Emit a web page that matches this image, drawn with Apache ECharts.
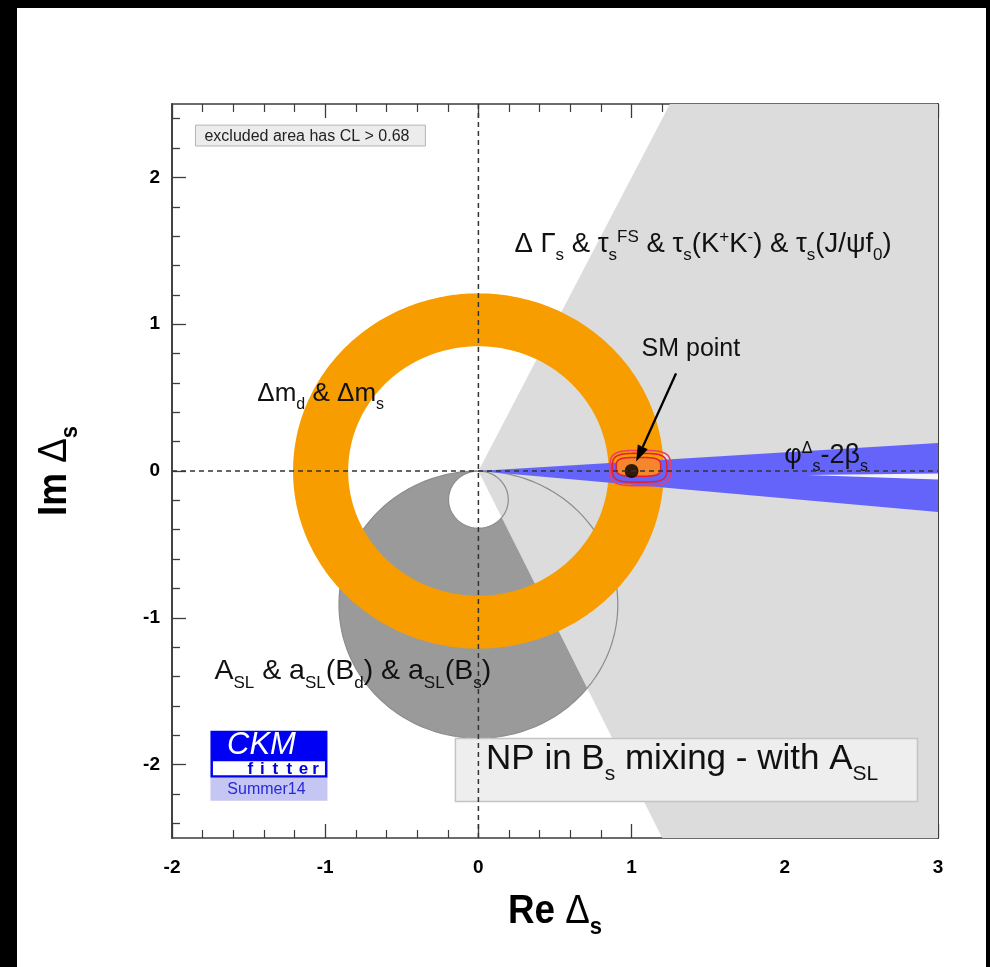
<!DOCTYPE html>
<html><head><meta charset="utf-8"><title>NP in Bs mixing</title>
<script src="https://cdn.jsdelivr.net/npm/echarts@6.0.0/dist/echarts.min.js"></script>
<style>
html,body{margin:0;padding:0;width:990px;height:967px;background:#000;overflow:hidden;}
#chart{position:absolute;left:17px;top:8px;width:969px;height:959px;background:#fff;}
</style></head>
<body><div id="chart"></div>
<script>
// ---------------- data ----------------
const xRange = [-2, 3];
const yRange = [-2.5, 2.5];
const xTickLabels = [-2, -1, 0, 1, 2, 3];
const yTickLabels = [-2, -1, 0, 1, 2];
const yMinorTicks = [-2.4,-2.2,-1.8,-1.6,-1.4,-1.2,-0.8,-0.6,-0.4,-0.2,0.2,0.4,0.6,0.8,1.2,1.4,1.6,1.8,2.2,2.4];

const dmRadii = [0.85, 1.21];                 // Δm_d & Δm_s ring (inner, outer radius, centred at origin)
const aslOuterCircle = [0, -0.91, 0.91];      // A_SL region: cx, cy, r
const aslInnerCircle = [0, -0.195, 0.195];    // A_SL excluded hole: cx, cy, r
const dGammaRegion = [[0,0],[1.25,2.5],[3,2.5],[3,-2.5],[1.2,-2.5]];
const phiRegion = [[0,0],[3,0.19],[3,-0.28]];
const phiGapRegion = [[2.15,-0.027],[3,-0.017],[3,-0.058]];
const fitContours = [[1.057,0.02,0.198,0.12],[1.052,0.022,0.178,0.098],[1.045,0.028,0.145,0.064]]; // cx, cy, a, b
const smPoint = [1, 0];
const arrowFrom = [1.29, 0.665];
const arrowTo = [1.03, 0.065];
const zeroLineH = [[-2,0],[3,0]];
const zeroLineV = [[0,-2.5],[0,2.5]];

// ---------------- layout / styles ----------------
const FF = "'Liberation Sans', Arial, Helvetica, sans-serif";
const frameColor = '#3c3c3c';
const layout = {
  exclBox: [[-1.847, 2.356], [-0.346, 2.214]],
  dGammaLabel: [0.235, 1.545],
  smLabel: [1.387, 0.832],
  phiLabel: [1.997, 0.106],
  dmLabel: [-1.443, 0.528],
  aslLabel: [-1.723, -1.364],
  npBox: [[-0.15, -1.823], [2.866, -2.252]],
  npText: [0.05, -1.966],
  logo: [-1.749, -1.770],
  xTitle: [0.5, -2.5],
  yTitle: [-2, 0]
};

function rich(F, col) {
  col = col || '#111';
  const f = Math.round(F * 0.6);
  return {
    n: {fontSize: F, fontFamily: FF, fill: col},
    s: {fontSize: f, fontFamily: FF, fill: col, padding: [Math.round(F * 0.84), 0, 0, 0]},
    p: {fontSize: f, fontFamily: FF, fill: col, padding: [0, 0, Math.round(F * 0.5), 0]}
  };
}

function circlePts(api, cx, cy, r, n, rev) {
  const pts = [];
  for (let i = 0; i <= n; i++) {
    const t = (rev ? -1 : 1) * 2 * Math.PI * i / n;
    pts.push(api.coord([cx + r * Math.cos(t), cy + r * Math.sin(t)]));
  }
  return pts;
}
function superPts(api, c) {
  const pts = [];
  const n = 160;
  for (let i = 0; i < n; i++) {
    const t = 2 * Math.PI * i / n;
    const co = Math.cos(t), si = Math.sin(t);
    pts.push(api.coord([c[0] + c[2] * Math.sign(co) * Math.pow(Math.abs(co), 0.55),
                        c[1] + c[3] * Math.sign(si) * Math.pow(Math.abs(si), 0.55)]));
  }
  return pts;
}
function shape(name, render) {
  return {type: 'custom', name: name, data: [[0, 0]], renderItem: render, silent: true, animation: false};
}

const series = [
  shape('asl', (p, api) => ({type: 'polygon', shape: {points: circlePts(api, aslOuterCircle[0], aslOuterCircle[1], aslOuterCircle[2], 240)}, style: {fill: '#9a9a9a'}})),
  shape('aslHole', (p, api) => ({type: 'polygon', shape: {points: circlePts(api, aslInnerCircle[0], aslInnerCircle[1], aslInnerCircle[2], 120)}, style: {fill: '#ffffff'}})),
  shape('dGamma', (p, api) => ({type: 'polygon', shape: {points: dGammaRegion.map(q => api.coord(q))}, style: {fill: '#dcdcdc'}})),
  shape('aslOutlines', (p, api) => ({type: 'group', children: [
    {type: 'polyline', shape: {points: circlePts(api, aslOuterCircle[0], aslOuterCircle[1], aslOuterCircle[2], 240)}, style: {stroke: '#8c8c8c', lineWidth: 1.2, fill: null}},
    {type: 'polyline', shape: {points: circlePts(api, aslInnerCircle[0], aslInnerCircle[1], aslInnerCircle[2], 120)}, style: {stroke: '#8c8c8c', lineWidth: 1.2, fill: null}}
  ]})),
  shape('dm', (p, api) => ({type: 'polygon', shape: {points: circlePts(api, 0, 0, dmRadii[1], 360).concat(circlePts(api, 0, 0, dmRadii[0], 360, true))}, style: {fill: '#f89d00'}})),
  shape('phi', (p, api) => ({type: 'polygon', shape: {points: phiRegion.map(q => api.coord(q))}, style: {fill: '#6464fa'}})),
  shape('phiGap', (p, api) => ({type: 'polygon', shape: {points: phiGapRegion.map(q => api.coord(q))}, style: {fill: '#f4f4ff'}})),
  shape('fit', (p, api) => ({type: 'group', children: fitContours.map((c, i) => ({
    type: 'polygon', shape: {points: superPts(api, c)},
    style: {fill: i === 2 ? '#f6862c' : null, stroke: i === 0 ? '#e8406a' : '#e42030', lineWidth: 1.6}
  }))})),
  {type: 'line', data: zeroLineH, symbol: 'none', silent: true, animation: false, lineStyle: {color: '#333', width: 1.5, type: [5, 4]}},
  {type: 'line', data: zeroLineV, symbol: 'none', silent: true, animation: false, lineStyle: {color: '#333', width: 1.5, type: [5, 4]}},
  shape('arrow', (p, api) => {
    const a = api.coord(arrowFrom), b = api.coord(arrowTo);
    const dx = b[0] - a[0], dy = b[1] - a[1], L = Math.hypot(dx, dy), ux = dx / L, uy = dy / L;
    const hl = 16, hw = 5.5;
    const base = [b[0] - ux * hl, b[1] - uy * hl];
    return {type: 'group', children: [
      {type: 'line', shape: {x1: a[0], y1: a[1], x2: base[0], y2: base[1]}, style: {stroke: '#000', lineWidth: 2.4}},
      {type: 'polygon', shape: {points: [b, [base[0] - uy * hw, base[1] + ux * hw], [base[0] + uy * hw, base[1] - ux * hw]]}, style: {fill: '#000'}}
    ]};
  }),
  {type: 'scatter', data: [smPoint], symbol: 'circle', symbolSize: 14, itemStyle: {color: '#000'}, silent: true, animation: false},
  shape('annotations', (p, api) => {
    const c = q => api.coord(q);
    const ch = [];
    // exclusion note
    const e1 = c(layout.exclBox[0]), e2 = c(layout.exclBox[1]);
    ch.push({type: 'rect', shape: {x: e1[0], y: e1[1], width: e2[0] - e1[0], height: e2[1] - e1[1]}, style: {fill: '#ececec', stroke: '#b4b4b4', lineWidth: 1}});
    ch.push({type: 'text', x: e1[0] + 9, y: (e1[1] + e2[1]) / 2 + 1, style: {text: 'excluded area has CL > 0.68', fontSize: 16, fontFamily: FF, fill: '#222', align: 'left', verticalAlign: 'middle'}});
    // labels
    const lab = (pos, text, F, align) => {
      const q = c(pos);
      const r = rich(F);
      ch.push({type: 'text', x: q[0], y: q[1], style: {text: text, rich: r, fontSize: F, fontFamily: FF, fill: '#111', align: align || 'left', verticalAlign: 'middle'}});
    };
    lab(layout.dGammaLabel, '{n|Δ Γ}{s|s}{n| & τ}{s|s}{p|FS}{n| & τ}{s|s}{n|(K}{p|+}{n|K}{p|-}{n|) & τ}{s|s}{n|(J/ψf}{s|0}{n|)}', 27.5);
    lab(layout.smLabel, '{n|SM point}', 25, 'center');
    lab(layout.phiLabel, '{n|φ}{p|Δ}{s|s}{n|-2β}{s|s}', 27);
    lab(layout.dmLabel, '{n|Δm}{s|d}{n| & Δm}{s|s}', 26);
    lab(layout.aslLabel, '{n|A}{s|SL}{n| & a}{s|SL}{n|(B}{s|d}{n|) & a}{s|SL}{n|(B}{s|s}{n|)}', 28.5);
    // NP box
    const n1 = c(layout.npBox[0]), n2 = c(layout.npBox[1]);
    ch.push({type: 'rect', shape: {x: n1[0], y: n1[1], width: n2[0] - n1[0], height: n2[1] - n1[1]}, style: {fill: '#eeeeee', stroke: '#c4c4c4', lineWidth: 1.5}});
    lab(layout.npText, '{n|NP in B}{s|s}{n| mixing - with A}{s|SL}', 35);
    // CKMfitter logo
    const L = c(layout.logo);
    ch.push({type: 'rect', shape: {x: L[0], y: L[1], width: 117, height: 47}, style: {fill: '#0000f4'}});
    ch.push({type: 'rect', shape: {x: L[0] + 2.5, y: L[1] + 30.5, width: 112, height: 14}, style: {fill: '#ffffff'}});
    ch.push({type: 'rect', shape: {x: L[0], y: L[1] + 47, width: 117, height: 23}, style: {fill: '#c6c6f4'}});
    ch.push({type: 'text', x: L[0] + 51, y: L[1] + 15, style: {text: 'CKM', fontSize: 31, fontStyle: 'italic', fontFamily: FF, fill: '#ffffff', align: 'center', verticalAlign: 'middle'}});
    const fl = ['f','i','t','t','e','r'], fx = [40, 52, 65, 79, 93, 105];
    fl.forEach((ltr, i) => ch.push({type: 'text', x: L[0] + fx[i], y: L[1] + 38.5, style: {text: ltr, fontSize: 17, fontWeight: 'bold', fontFamily: FF, fill: '#0000e0', align: 'center', verticalAlign: 'middle'}}));
    ch.push({type: 'text', x: L[0] + 56, y: L[1] + 59, style: {text: 'Summer14', fontSize: 16, fontFamily: FF, fill: '#2828d8', align: 'center', verticalAlign: 'middle'}});
    // axis titles
    const xt = c(layout.xTitle);
    const tr = {
      b: {fontSize: 40, fontWeight: 'bold', fontFamily: FF, fill: '#000'},
      d: {fontSize: 40, fontFamily: FF, fill: '#000'},
      s: {fontSize: 24, fontWeight: 'bold', fontFamily: FF, fill: '#000', padding: [30, 0, 0, 0]}
    };
    ch.push({type: 'text', x: xt[0], y: xt[1] + 74, scaleX: 0.92, style: {text: '{b|Re }{d|Δ}{s|s}', rich: tr, align: 'center', verticalAlign: 'middle'}});
    const yt = c(layout.yTitle);
    ch.push({type: 'text', x: yt[0] - 117, y: yt[1], rotation: Math.PI / 2, scaleX: 0.92, style: {text: '{b|Im }{d|Δ}{s|s}', rich: tr, align: 'center', verticalAlign: 'middle'}});
    return {type: 'group', children: ch};
  })
];

function xAx(pos, labels) {
  return {
    type: 'value', position: pos, min: xRange[0], max: xRange[1], interval: 1,
    axisLine: {show: true, onZero: false, lineStyle: {color: frameColor, width: 1.6}},
    axisTick: {show: true, inside: true, length: 14, lineStyle: {color: frameColor, width: 1.3}},
    minorTick: {show: true, splitNumber: 5, length: 8, lineStyle: {color: frameColor, width: 1.2}},
    axisLabel: {show: labels, margin: 20, color: '#000', fontWeight: 'bold', fontSize: 19, fontFamily: FF,
      formatter: v => (xTickLabels.indexOf(v) >= 0 ? String(v) : '')},
    splitLine: {show: false}, minorSplitLine: {show: false}
  };
}
function yAx(pos, labels, values, len) {
  return {
    type: 'value', position: pos, min: yRange[0], max: yRange[1],
    axisLine: {show: true, onZero: false, lineStyle: {color: frameColor, width: 1.6}},
    axisTick: {show: true, inside: true, length: len, customValues: values, lineStyle: {color: frameColor, width: 1.3}},
    axisLabel: {show: labels, customValues: values, margin: 12, color: '#000', fontWeight: 'bold', fontSize: 19, fontFamily: FF},
    splitLine: {show: false}
  };
}

const chart = echarts.init(document.getElementById('chart'), null, {renderer: 'canvas'});
chart.setOption({
  animation: false,
  backgroundColor: '#ffffff',
  grid: {left: 155, right: 48, top: 96, bottom: 129, containLabel: false},
  xAxis: [xAx('bottom', true), xAx('top', false)],
  yAxis: [yAx('left', true, yTickLabels, 14), yAx('right', false, yTickLabels, 14),
          yAx('left', false, yMinorTicks, 8), yAx('right', false, yMinorTicks, 8)],
  series: series
});
</script>
</body></html>
